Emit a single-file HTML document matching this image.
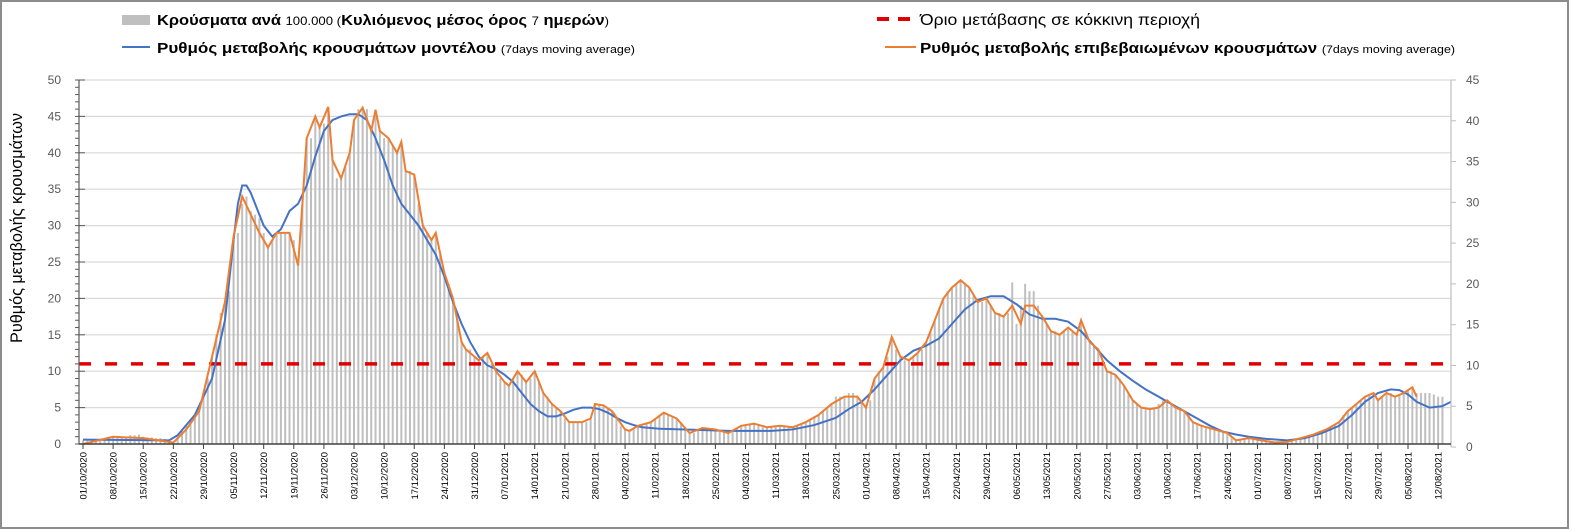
<!DOCTYPE html>
<html><head><meta charset="utf-8"><style>
html,body{margin:0;padding:0;background:#fff}
svg{display:block}
text{font-family:"Liberation Sans",sans-serif}
</style></head><body>
<svg id="chart" width="1575" height="531" viewBox="0 0 1575 531" xmlns="http://www.w3.org/2000/svg">
<rect x="1" y="1" width="1567" height="527" fill="#fff" stroke="#8c8c8c" stroke-width="2"/>
<g id="grid"></g>
<g id="bars"></g>
<g id="lines"></g>
<g id="axes"></g>
<text transform="translate(22,228) rotate(-90)" text-anchor="middle" font-size="17" fill="#000" textLength="230" lengthAdjust="spacingAndGlyphs">Ρυθμός μεταβολής κρουσμάτων</text>
<g>
 <g>
  <rect x="122" y="15" width="28" height="10" fill="#bfbfbf"/>
  <text x="157" y="25" font-size="15" font-weight="bold" textLength="452" lengthAdjust="spacingAndGlyphs">Κρούσματα ανά <tspan font-size="12" font-weight="normal">100.000 (</tspan>Κυλιόμενος μέσος όρος <tspan font-size="12" font-weight="normal">7</tspan> ημερών<tspan font-size="12" font-weight="normal">)</tspan></text>
 </g>
 <g>
  <line x1="122" y1="47" x2="150" y2="47" stroke="#4472c4" stroke-width="2"/>
  <text x="157" y="53" font-size="15" font-weight="bold" textLength="478" lengthAdjust="spacingAndGlyphs">Ρυθμός μεταβολής κρουσμάτων μοντέλου <tspan font-size="11" font-weight="normal">(7days moving average)</tspan></text>
 </g>
 <g>
  <line x1="877" y1="19" x2="912" y2="19" stroke="#e00000" stroke-width="4" stroke-dasharray="12,9"/>
  <text x="920" y="25" font-size="16" textLength="280" lengthAdjust="spacingAndGlyphs">Όριο μετάβασης σε κόκκινη περιοχή</text>
 </g>
 <g>
  <line x1="885" y1="47" x2="916" y2="47" stroke="#ed7d31" stroke-width="2"/>
  <text x="920" y="53" font-size="15" font-weight="bold" textLength="535" lengthAdjust="spacingAndGlyphs">Ρυθμός μεταβολής επιβεβαιωμένων κρουσμάτων <tspan font-size="11" font-weight="normal">(7days moving average)</tspan></text>
 </g>
</g>
</svg>
<script>
const leftTicks=[0,5,10,15,20,25,30,35,40,45,50];
const rightTicks=[0,5,10,15,20,25,30,35,40,45];
const threshold=[11];
const dateLabels=["01/10/2020","08/10/2020","15/10/2020","22/10/2020","29/10/2020","05/11/2020","12/11/2020","19/11/2020","26/11/2020","03/12/2020","10/12/2020","17/12/2020","24/12/2020","31/12/2020","07/01/2021","14/01/2021","21/01/2021","28/01/2021","04/02/2021","11/02/2021","18/02/2021","25/02/2021","04/03/2021","11/03/2021","18/03/2021","25/03/2021","01/04/2021","08/04/2021","15/04/2021","22/04/2021","29/04/2021","06/05/2021","13/05/2021","20/05/2021","27/05/2021","03/06/2021","10/06/2021","17/06/2021","24/06/2021","01/07/2021","08/07/2021","15/07/2021","22/07/2021","29/07/2021","05/08/2021","12/08/2021"];
const barValues=[0.5,0.5,0.5,0.6,0.7,0.8,0.9,1.1,1.1,1.0,1.0,1.2,1.2,1.3,1.0,0.9,0.9,0.8,0.8,0.7,0.5,0.3,1.0,1.8,2.5,3.2,4.0,5.0,7,9,12,15,18,19.5,21,28,29,33,34,32,31.5,31,29,27,28,29,29,29,29,28,24.5,33,42,42,45,43.5,44,46.3,39,36.5,36.5,38,40,44.5,46,46.2,46,43,45.9,43,42,42,41,40,41.5,37.5,37.5,37,33,30,29,28,29,26,23.5,22,20,17,14,13,13,12,11.5,12,12.5,11,10,9,8.5,8,9,10,9.5,8.5,9,10,8.5,7,6.5,5.5,5,4.5,3.5,3,3,3,3,3,3.5,5.5,5.5,5.3,5,4.5,3.5,2.5,2,1.8,2,2.5,2.5,2.8,3,3.5,4,4.3,4,3.8,3.5,3,2,1.5,1.5,1.8,2.2,2.2,2.1,2,1.8,1.6,1.5,1.8,2.2,2.5,2.6,2.8,2.8,2.6,2.3,2.3,2.4,2.5,2.5,2.4,2.3,2.3,2.5,2.8,3,3.4,3.8,4,4.5,5,5.5,6.5,6.5,6.5,7,7,6.5,6,5,6,9,10,10.5,12,14.7,13,12,11.5,11.5,12,12.5,13,14,15.5,17,18.5,20,21,21.5,22,22.5,22,21.5,20.5,19.5,19.5,20,19,18,18,17.5,18,22.2,16.5,19,22,21,21,19,17.5,16.5,15.5,15.5,15,15.5,16,15.5,15,17,15.5,14,13.5,13,11.5,10,10,9.5,9,8,7,6,5.5,5,4.8,4.8,5,5.5,6,6,5.5,5,5,4.5,4,3,2.8,2.5,2.3,2.2,2,1.8,1.6,1.5,1,0.5,0.6,0.8,0.8,0.7,0.6,0.5,0.4,0.3,0.2,0.2,0.3,0.3,0.5,0.7,0.8,1,1.2,1.3,1.5,1.8,2,2.3,2.7,3,4,4.5,5,5.5,6,6.5,6.8,7,6,6.5,7,7,6.5,6.8,7,7.3,7.8,7,7,7,7,6.8,6.5,6.5];
const orangeDays=[0,7,14,21,24,27,30,33,35,37,39,41,43,45,48,50,51,52,54,55,57,58,60,62,63,65,67,68,69,71,73,74,75,77,79,81,82,84,86,88,89,91,92,94,96,98,99,101,103,105,107,109,111,113,116,118,119,121,123,126,127,129,132,135,138,141,144,147,150,153,156,159,162,165,168,171,174,177,180,182,184,186,188,190,192,194,196,198,200,202,204,206,208,210,212,214,216,218,219,221,223,225,227,229,231,232,234,236,238,240,242,244,246,248,250,252,254,256,258,260,263,266,268,271,274,277,280,283,286,289,292,294,296,298,300,301,303,305,307,309,310];
const orangeValues=[0,1.0,0.8,0.2,2,4.5,12,19.5,28.5,34,31.5,29,27,29,29,24.5,33,42,45,43.5,46.3,39,36.5,40,44.5,46.2,43,45.9,43,42,40,41.5,37.5,37,30,28,29,23.5,20,14,13,12,11.5,12.5,10,8.5,8,10,8.5,10,7,5.5,4.5,3,3,3.5,5.5,5.3,4.5,2,1.8,2.5,3,4.3,3.5,1.5,2.2,2,1.5,2.5,2.8,2.3,2.5,2.3,3,4,5.5,6.5,6.5,5,9,10.5,14.7,12,11.5,12.5,14,17,20,21.5,22.5,21.5,19.5,20,18,17.5,19,16.5,19,19,17.5,15.5,15,16,15,17,14,13,10,9.5,8,6,5,4.8,5,6,5,4.5,3,2.5,2,1.5,0.5,0.8,0.5,0.2,0.3,0.8,1.3,2,3,4.5,5.5,6.5,7,6,7,6.5,7,7.8,6.5];
const blueDays=[0,20,22,26,30,33,35,36,37,38,39,40,42,44,46,48,50,52,54,56,58,60,62,64,66,68,70,72,74,76,78,80,82,84,86,88,90,92,94,96,98,100,102,104,106,108,110,112,114,116,118,120,122,124,126,128,130,134,140,150,160,165,170,175,178,181,184,187,190,193,196,199,202,205,208,211,214,217,220,223,226,229,232,235,238,241,244,247,250,253,256,259,262,265,268,271,275,280,284,288,292,295,298,301,304,306,308,310,313,316,318];
const blueValues=[0.6,0.5,1.2,4,9,17,28,33,35.5,35.5,34.5,33,30,28.5,29.5,32,33,35.5,39.5,43,44.5,45,45.3,45.3,44.5,42,39,35.5,33,31.5,30,28,26,23,19.5,16.5,14,12,10.8,10.3,9.5,8.5,7,5.5,4.5,3.8,3.8,4.2,4.7,5,5,4.8,4.3,3.6,3,2.6,2.3,2.1,2,1.8,1.8,2,2.6,3.6,4.8,5.8,7.5,9.5,11.5,12.8,13.5,14.5,16.5,18.5,19.8,20.3,20.3,19.2,17.8,17.2,17.2,16.8,15.5,13.5,11.5,10,8.7,7.5,6.5,5.5,4.5,3.5,2.5,1.7,1.3,1,0.7,0.5,0.8,1.5,2.5,4,5.8,7,7.5,7.4,6.8,5.8,5,5.2,5.8];

const NS="http://www.w3.org/2000/svg";
const X0=83, DX=4.302, Y0=444, YS=7.28, XR=1451, RYS=(447-80)/45;
const xS=d=>X0+d*DX, yS=v=>Y0-v*YS, yR=v=>447-v*RYS;
function mk(tag,parent,attrs){const e=document.createElementNS(NS,tag);for(const k in attrs)e.setAttribute(k,attrs[k]);parent.appendChild(e);return e;}
const grid=document.getElementById('grid'),bars=document.getElementById('bars'),lines=document.getElementById('lines'),axes=document.getElementById('axes');
leftTicks.forEach(v=>{
 if(v>0){const g=mk('line',grid,{x1:79,x2:XR,y1:yS(v),y2:yS(v),stroke:'#d9d9d9','stroke-width':1.2});
 
 }
 const t=mk('text',axes,{x:61,y:yS(v)+4,'text-anchor':'end','font-size':12,fill:'#595959'});t.textContent=v;
 
 
});
for(let v=0;v<=50;v++){mk('line',axes,{x1:75,x2:v%5===0?85:79,y1:yS(v),y2:yS(v),stroke:'#595959','stroke-width':1});}
mk('line',axes,{x1:79,x2:79,y1:yS(50),y2:Y0,stroke:'#595959','stroke-width':1.2});
rightTicks.forEach(v=>{
 const t=mk('text',axes,{x:1466,y:yR(v)+4,'font-size':12,fill:'#595959'});t.textContent=v;
 
 
 mk('line',axes,{x1:XR,x2:XR+5,y1:yR(v),y2:yR(v),stroke:'#bfbfbf'});
});
mk('line',axes,{x1:XR,x2:XR,y1:80,y2:447,stroke:'#bfbfbf','stroke-width':1.2});
barValues.forEach((v,i)=>{
 const b=mk('rect',bars,{x:xS(i)-1,y:yS(v),width:2,height:Y0-yS(v),fill:'#bfbfbf'});
 
 
});
mk('line',axes,{x1:79,x2:XR,y1:Y0,y2:Y0,stroke:'#404040','stroke-width':1.5});
dateLabels.forEach((s,i)=>{
 const x=xS(i*7);
 mk('line',axes,{x1:x,x2:x,y1:Y0,y2:Y0+5,stroke:'#404040'});
 const t=mk('text',axes,{transform:`translate(${x+3.5},${Y0+8}) rotate(-90)`,'text-anchor':'end','font-size':9.5,fill:'#000'});t.textContent=s;
 
 
});
const th=mk('line',lines,{x1:79,x2:XR,y1:yS(threshold[0]),y2:yS(threshold[0]),stroke:'#e00000','stroke-width':3.5,'stroke-dasharray':'12,14'});


const bl=mk('polyline',lines,{points:blueDays.map((d,i)=>xS(d)+','+yS(blueValues[i])).join(' '),fill:'none',stroke:'#4472c4','stroke-width':2});


const ol=mk('polyline',lines,{points:orangeDays.map((d,i)=>xS(d)+','+yS(orangeValues[i])).join(' '),fill:'none',stroke:'#ed7d31','stroke-width':2});


</script>
</body></html>
